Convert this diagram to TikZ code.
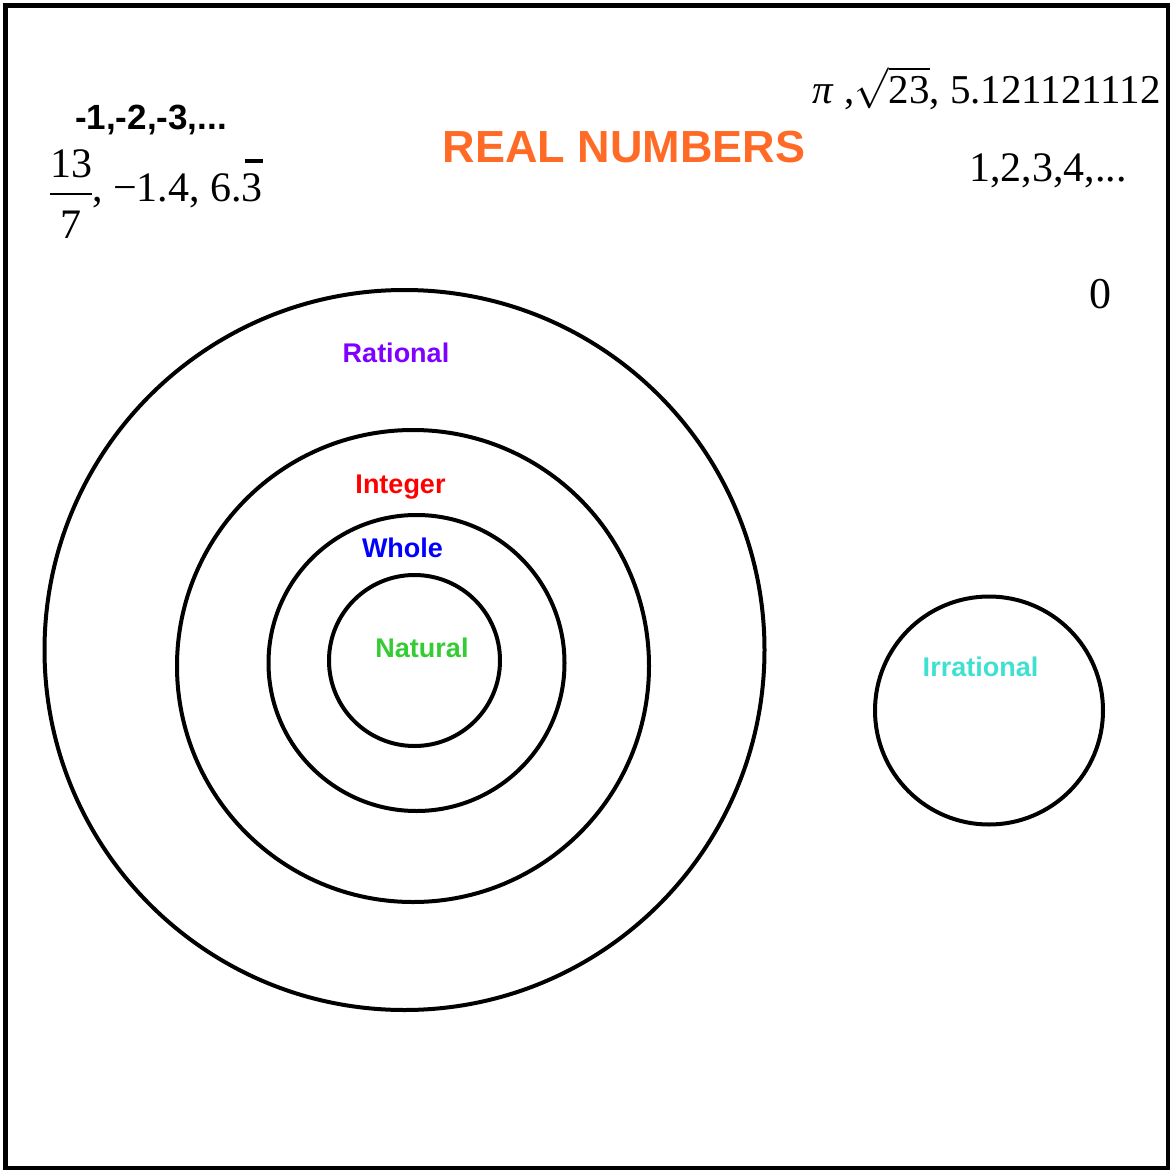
\RequirePackage{fix-cm}
\documentclass[tikz,border=0pt]{standalone}
\usepackage{fontspec}
\setmainfont{Liberation Serif}
\newfontfamily\lsans{Liberation Sans}
\definecolor{realorange}{HTML}{FF6B26}
\definecolor{ratpurple}{HTML}{8000FF}
\definecolor{intred}{HTML}{FF0000}
\definecolor{wholeblue}{HTML}{0000FF}
\definecolor{natgreen}{HTML}{33CC33}
\definecolor{irrturq}{HTML}{40E0D0}
\newcommand\barthree{\ooalign{3\cr\hfill\raisebox{0.9em}{\rule{0.42em}{0.11em}}\cr}}
\newcommand\stackfrac[2]{\setbox0\hbox{#1}%
  \rlap{\raisebox{0.56em}{#1}}%
  \rlap{\raisebox{0.15em}{\rule{\wd0}{0.045em}}}%
  \rlap{\hbox to \wd0{\hss\raisebox{-0.9em}{#2}\hss}}%
  \hspace{\wd0}}
\tikzset{
  ring/.style={circle,draw=black,line width=4pt,inner sep=0pt,minimum size=#1},
  setlabel/.style={font=\lsans\bfseries\fontsize{27}{30}\selectfont,anchor=base,inner sep=0pt}
}
\begin{document}
\begin{tikzpicture}[x=1pt,y=-1pt]
\useasboundingbox (0,0) rectangle (1173,1172);
\node[draw=black,line width=4.5pt,inner sep=0pt,minimum width=1162.5pt,minimum height=1162.5pt] (frame) at (586.75,586.75) {};
% circles
\node[ring=720pt] (rational) at (404.5,650) {};
\node[ring=472pt] (integer) at (413,666) {};
\node[ring=296pt] (whole) at (416.5,663) {};
\node[ring=171pt] (natural) at (414.5,660.5) {};
\node[ring=228pt] (irrational) at (989,710.5) {};
% labels
\node[setlabel,text=realorange,font=\lsans\bfseries\fontsize{45}{50}\selectfont] (title) at (624,162) {REAL NUMBERS};
\node[setlabel,text=ratpurple] (lrat) at (396,362) {Rational};
\node[setlabel,text=intred] (lint) at (400.5,493) {Integer};
\node[setlabel,text=wholeblue] (lwhole) at (402.5,557) {Whole};
\node[setlabel,text=natgreen] (lnat) at (422,657) {Natural};
\node[setlabel,text=irrturq] (lirr) at (980.5,676) {Irrational};
% example numbers
\node[anchor=base,inner sep=0pt,font=\lsans\bfseries\fontsize{35}{38}\selectfont] (negints) at (151,129) {-1,-2,-3,...};
\node[anchor=base west,inner sep=0pt,font=\fontsize{42}{46}\selectfont] (rats) at (50,201) {\stackfrac{13}{7}, −1.4, 6.\barthree};
\node[anchor=base east,inner sep=0pt,font=\fontsize{41}{46}\selectfont] (irrs) at (1161,103) {\textit{π}\ ,$\sqrt{\mbox{23}}$, 5.121121112};
\node[anchor=base east,inner sep=0pt,font=\fontsize{42}{46}\selectfont] (nats) at (1127,181) {1,2,3,4,...};
\node[anchor=base,inner sep=0pt,font=\fontsize{44}{50}\selectfont] (zero) at (1100,308) {0};
\end{tikzpicture}
\end{document}
